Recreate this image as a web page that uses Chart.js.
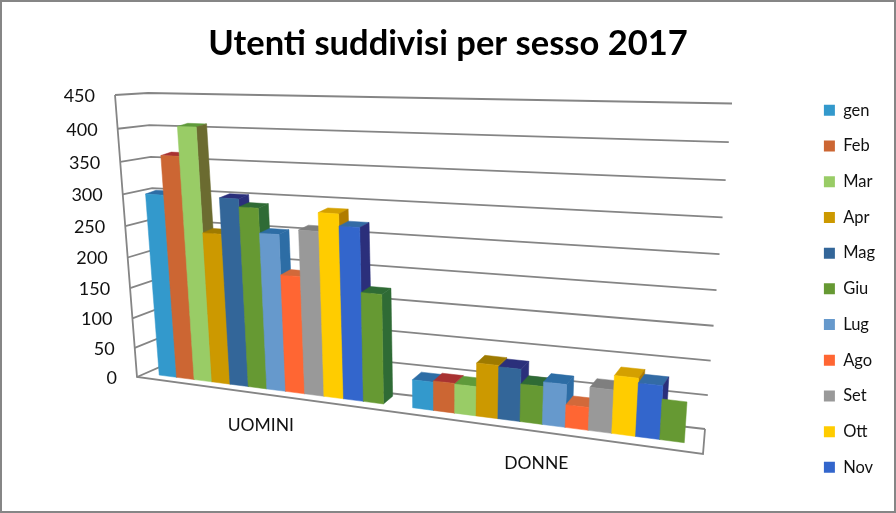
<!DOCTYPE html>
<html>
<head>
<meta charset="utf-8">
<style>
  html, body { margin: 0; padding: 0; background: #fff; }
  #wrap { position: relative; width: 896px; height: 513px; }
</style>
<script src="https://cdn.jsdelivr.net/npm/chart.js@4"></script>
</head>
<body>
<div id="wrap"><canvas id="chart"></canvas></div>
<script>
const categories = ['UOMINI', 'DONNE'];
const months = ['gen', 'Feb', 'Mar', 'Apr', 'Mag', 'Giu', 'Lug', 'Ago', 'Set', 'Ott', 'Nov', 'Dic'];
const yTicks = [0, 50, 100, 150, 200, 250, 300, 350, 400, 450];

const uomini = [297, 358, 403, 242, 298, 286, 248, 186, 257, 285, 267, 170];
const donne = [44, 46, 45, 81, 79, 57, 64, 34, 64, 85, 78, 59];

const frontColors = ['#3399cc', '#cc6633', '#99cc66', '#cc9900', '#336699', '#669933', '#6699cc', '#ff6633', '#999999', '#ffcc00', '#3366cc', '#669933'];
const topColors = ['#2d6da5', '#a83232', '#5f9a3a', '#9e7a00', '#2b2f7b', '#2f6b35', '#2d6da5', '#d2693a', '#7f7f7f', '#d4a000', '#336ba5', '#2f6b35'];
const sideColors = ['#2d6da5', '#a83232', '#6b6b30', '#9e7a00', '#2b2f7b', '#2f6b35', '#2d6da5', '#d2693a', '#7f7f7f', '#b07c00', '#2b2f7b', '#2f6b35'];

// corners of the plane holding the bar fronts, of the back wall, and of the outer floor edge
const barPlane = { bl: [147, 373.5], br: [702, 445], tr: [726, 107], tl: [125, 93.5] };
const backWall = { bl: [160, 367], br: [705, 429], tr: [732, 103.5], tl: [148, 93] };
const frontEdge = { bottom: [137, 377], top: [115, 95], right: [703, 454] };
const edgeBow = 0.088; // ticks on the front edge get wider going up
const vanish = [1000, -120];
const depthLeft = 0.012;
const depthRight = 0.018;

// square -> quad homography
function quadMap(q) {
    const [x0, y0] = q.tl, [x1, y1] = q.tr, [x2, y2] = q.br, [x3, y3] = q.bl;
    const dx1 = x1 - x2, dx2 = x3 - x2, sx = x0 - x1 + x2 - x3;
    const dy1 = y1 - y2, dy2 = y3 - y2, sy = y0 - y1 + y2 - y3;
    const den = dx1 * dy2 - dx2 * dy1;
    const g = (sx * dy2 - dx2 * sy) / den;
    const h = (dx1 * sy - sx * dy1) / den;
    const a = x1 - x0 + g * x1, b = x3 - x0 + h * x3;
    const d = y1 - y0 + g * y1, e = y3 - y0 + h * y3;
    return function(u, v) {
        const s = 1 - v; // v goes up, the square goes down
        const w = g * u + h * s + 1;
        return [(a * u + b * s + x0) / w, (d * u + e * s + y0) / w];
    };
}

const frontAt = quadMap(barPlane);
const wallAt = quadMap(backWall);

function backOf(p, u) {
    const k = depthLeft + (depthRight - depthLeft) * u;
    return [p[0] + (vanish[0] - p[0]) * k, p[1] + (vanish[1] - p[1]) * k];
}

function poly(ctx, pts, color) {
    ctx.fillStyle = color;
    ctx.strokeStyle = color;
    ctx.lineWidth = 0.5;
    ctx.beginPath();
    pts.forEach((p, i) => i ? ctx.lineTo(p[0], p[1]) : ctx.moveTo(p[0], p[1]));
    ctx.closePath();
    ctx.fill();
    ctx.stroke();
}

function line(ctx, pts) {
    ctx.beginPath();
    pts.forEach((p, i) => i ? ctx.lineTo(p[0], p[1]) : ctx.moveTo(p[0], p[1]));
    ctx.stroke();
}

const perspective = {
    id: 'perspective',
    beforeDraw(chart) {
        const ctx = chart.ctx;
        ctx.save();
        ctx.strokeStyle = '#868686';
        ctx.lineWidth = 2;
        ctx.strokeRect(1, 1, chart.width - 2, chart.height - 2);
        ctx.restore();
    },
    beforeDatasetDraw() {
        return false; // native flat bars are replaced below
    },
    beforeDatasetsDraw(chart) {
        const ctx = chart.ctx;
        const area = chart.chartArea;
        const yScale = chart.scales.y;
        const xScale = chart.scales.x;
        const toU = px => (px - area.left) / area.width;
        const toV = px => (area.bottom - px) / area.height;

        ctx.save();

        // walls and floor
        ctx.strokeStyle = '#858585';
        ctx.lineWidth = 1.8;
        const edge = v => {
            const t = v / (1 + edgeBow * (1 - v));
            return [
                frontEdge.bottom[0] + (frontEdge.top[0] - frontEdge.bottom[0]) * t,
                frontEdge.bottom[1] + (frontEdge.top[1] - frontEdge.bottom[1]) * t
            ];
        };
        yScale.ticks.forEach(t => {
            const v = toV(yScale.getPixelForValue(t.value));
            line(ctx, [edge(v), wallAt(0, v), wallAt(1, v)]);
        });
        line(ctx, [edge(1), edge(0), frontEdge.right, wallAt(1, 0)]);

        // bars, left to right so a bar hides its neighbour's side
        categories.forEach((cat, j) => {
            chart.data.datasets.forEach((ds, i) => {
                const bar = chart.getDatasetMeta(i).data[j];
                const u0 = toU(bar.x - bar.width / 2);
                const u1 = toU(bar.x + bar.width / 2);
                const vTop = toV(bar.y);
                const vBase = toV(bar.base);
                const fl = frontAt(u0, vTop), fr = frontAt(u1, vTop);
                const bl = frontAt(u0, vBase), br = frontAt(u1, vBase);
                const flat = j === categories.length - 1 && i === chart.data.datasets.length - 1;
                if (!flat) {
                    poly(ctx, [fl, fr, backOf(fr, u1), backOf(fl, u0)], topColors[i]);
                    poly(ctx, [fr, backOf(fr, u1), backOf(br, u1), br], sideColors[i]);
                }
                poly(ctx, [fl, fr, br, bl], ds.backgroundColor);
            });
        });

        // tick labels follow the slanted front edge
        ctx.fillStyle = '#111';
        ctx.font = '18px Lato';
        ctx.textAlign = 'right';
        ctx.textBaseline = 'middle';
        yScale.ticks.forEach(t => {
            const p = edge(toV(yScale.getPixelForValue(t.value)));
            ctx.fillText(t.label, p[0] - 20, p[1] + 1);
        });

        // category labels sit a fixed distance under the floor's front edge
        ctx.font = '17.5px Lato';
        ctx.textAlign = 'center';
        categories.forEach((cat, j) => {
            const x = frontAt(toU(xScale.getPixelForValue(j)), 0)[0] - 6;
            const slope = (frontEdge.right[1] - frontEdge.bottom[1]) / (frontEdge.right[0] - frontEdge.bottom[0]);
            ctx.fillText(cat, x, frontEdge.bottom[1] + (x - frontEdge.bottom[0]) * slope + 32);
        });
        ctx.restore();
    }
};

const chart = new Chart(document.getElementById('chart'), {
    type: 'bar',
    data: {
        labels: categories,
        datasets: months.map((m, i) => ({
            label: m,
            data: [uomini[i], donne[i]],
            backgroundColor: frontColors[i]
        }))
    },
    options: {
        responsive: true,
        maintainAspectRatio: false,
        animation: false,
        layout: { padding: { left: 11, right: 11 } },
        datasets: { bar: { categoryPercentage: 0.894, barPercentage: 1 } },
        scales: {
            x: { display: false },
            y: {
                display: false,
                min: 0,
                max: 450,
                afterBuildTicks: s => { s.ticks = yTicks.map(value => ({ value })); }
            }
        },
        plugins: {
            tooltip: { enabled: false },
            title: {
                display: true,
                text: 'Utenti suddivisi per sesso 2017',
                color: '#000',
                font: { family: 'Lato', size: 34.5, weight: 'bold' },
                padding: { top: 23, bottom: 18.5 }
            },
            legend: {
                position: 'right',
                align: 'start',
                fullSize: false,
                labels: {
                    filter: item => item.text !== 'Dic',
                    boxWidth: 11,
                    boxHeight: 11,
                    padding: 19.2,
                    color: '#111',
                    font: { family: 'Lato', size: 16.5 }
                }
            }
        }
    },
    plugins: [perspective]
});
</script>
</body>
</html>
